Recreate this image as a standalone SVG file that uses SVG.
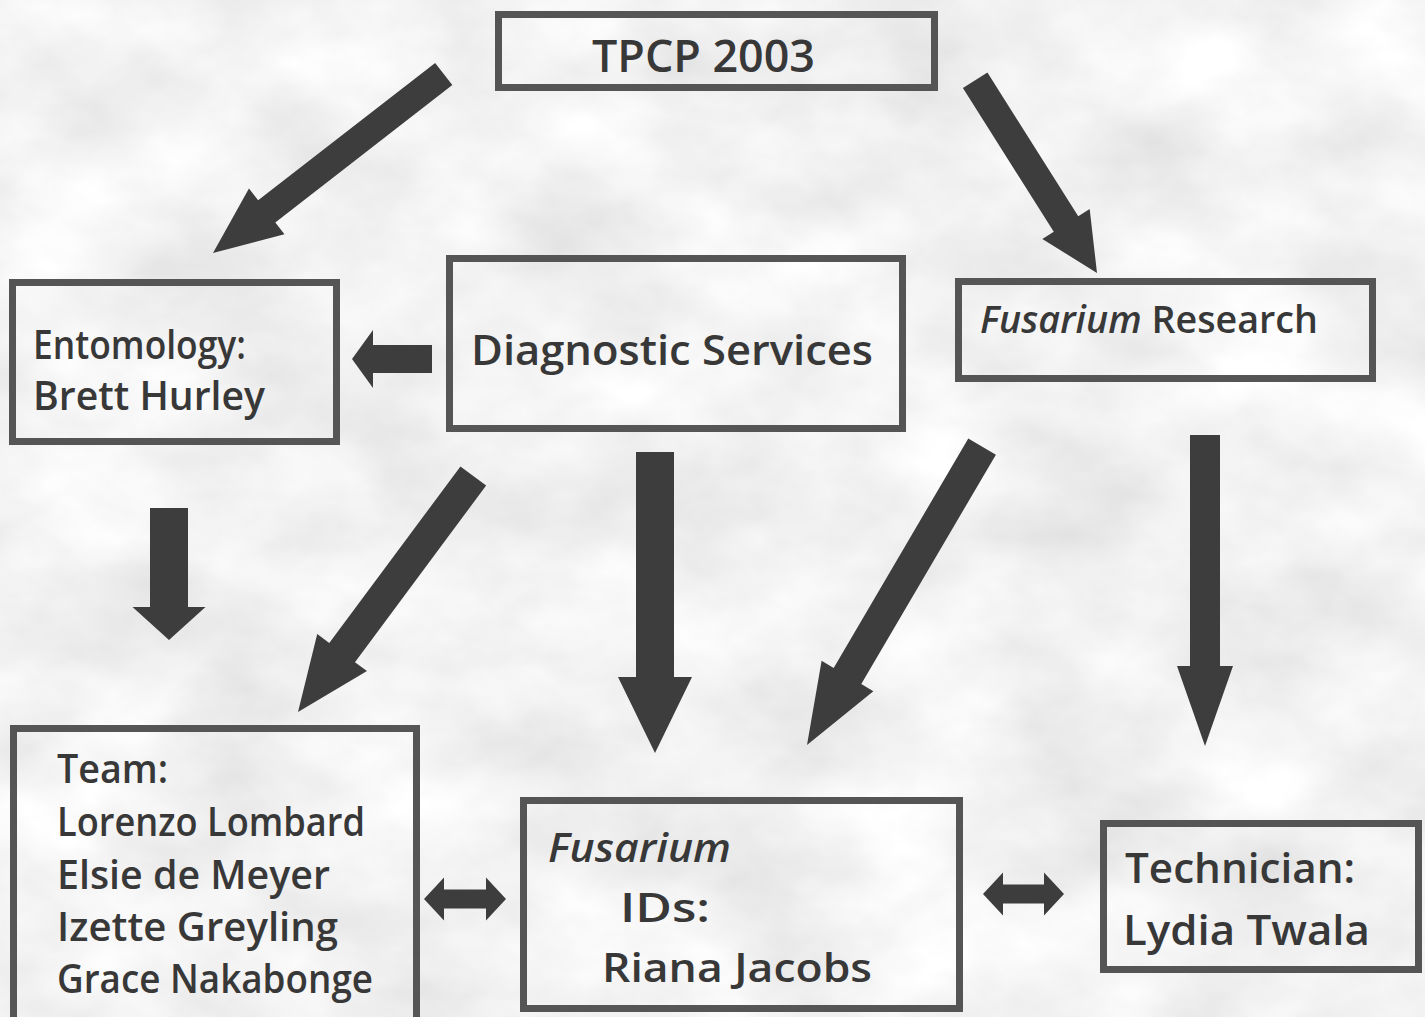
<svg xmlns="http://www.w3.org/2000/svg" width="1425" height="1017" viewBox="0 0 1425 1017">
  <defs>
    <filter id="marble" x="0" y="0" width="100%" height="100%" filterUnits="userSpaceOnUse">
      <feTurbulence type="fractalNoise" baseFrequency="0.006 0.009" numOctaves="5" seed="7" result="n"/>
      <feColorMatrix in="n" type="matrix" values="0.38 0 0 0 0.7  0.38 0 0 0 0.7  0.38 0 0 0 0.7  0 0 0 0 1"/>
    </filter>
    <style>
      .box { fill: none; stroke: #555555; stroke-width: 7; }
      .t { font-family: "Open Sans", "DejaVu Sans", sans-serif; font-weight: 600; fill: #383838; }
      .it { font-style: italic; }
      .arr { fill: #3d3d3d; }
    </style>
  </defs>

  <rect x="0" y="0" width="1425" height="1017" fill="#e2e2e2" filter="url(#marble)"/>

  <g id="connectors">
    <!-- TPCP -> Entomology -->
    <path class="arr" transform="translate(213,253) rotate(142.2)" d="M0,0 L-68,-29 L-68,-14 L-292,-14 L-292,14 L-68,14 L-68,29 Z"/>
    <!-- TPCP -> Fusarium Research -->
    <path class="arr" transform="translate(1097,273) rotate(57.7)" d="M0,0 L-58,-28 L-58,-14.5 L-228,-14.5 L-228,14.5 L-58,14.5 L-58,28 Z"/>
    <!-- Diagnostic -> Entomology -->
    <path class="arr" transform="translate(352,359) rotate(180)" d="M0,0 L-21,-29 L-21,-14 L-80,-14 L-80,14 L-21,14 L-21,29 Z"/>
    <!-- Entomology -> Team -->
    <path class="arr" transform="translate(169,640) rotate(90)" d="M0,0 L-33,-36.5 L-33,-19 L-132,-19 L-132,19 L-33,19 L-33,36.5 Z"/>
    <!-- Diagnostic -> Team -->
    <path class="arr" transform="translate(298,712) rotate(126.6)" d="M0,0 L-74,-31 L-74,-16 L-294,-16 L-294,16 L-74,16 L-74,31 Z"/>
    <!-- Diagnostic -> Fusarium IDs -->
    <path class="arr" transform="translate(655,753) rotate(90)" d="M0,0 L-76,-37 L-76,-19 L-301,-19 L-301,19 L-76,19 L-76,37 Z"/>
    <!-- Fusarium Research -> Fusarium IDs -->
    <path class="arr" transform="translate(807,745) rotate(120.4)" d="M0,0 L-80,-30 L-80,-16 L-346,-16 L-346,16 L-80,16 L-80,30 Z"/>
    <!-- Fusarium Research -> Technician -->
    <path class="arr" transform="translate(1205,746) rotate(90)" d="M0,0 L-80,-28 L-80,-15 L-311,-15 L-311,15 L-80,15 L-80,28 Z"/>
    <!-- Team <-> Fusarium IDs -->
    <path class="arr" d="M424,899 L444,877.5 L444,889.5 L486,889.5 L486,877.5 L506,899 L486,920.5 L486,908.5 L444,908.5 L444,920.5 Z"/>
    <!-- Fusarium IDs <-> Technician -->
    <path class="arr" d="M983,894 L1003,872.5 L1003,884.5 L1044,884.5 L1044,872.5 L1064,894 L1044,915.5 L1044,903.5 L1003,903.5 L1003,915.5 Z"/>
  </g>

  <g id="tpcp">
    <rect class="box" x="498.5" y="14.5" width="436" height="73"/>
    <text class="t" x="592" y="72" font-size="46" textLength="223" lengthAdjust="spacingAndGlyphs">TPCP 2003</text>
  </g>

  <g id="entomology">
    <rect class="box" x="12.5" y="282.5" width="324" height="159"/>
    <text class="t" x="33" y="359" font-size="40" textLength="213" lengthAdjust="spacingAndGlyphs">Entomology:</text>
    <text class="t" x="33" y="410" font-size="40" textLength="232" lengthAdjust="spacingAndGlyphs">Brett Hurley</text>
  </g>

  <g id="diagnostic">
    <rect class="box" x="449.5" y="258.5" width="453" height="170"/>
    <text class="t" x="471" y="365" font-size="42" textLength="402" lengthAdjust="spacingAndGlyphs">Diagnostic Services</text>
  </g>

  <g id="fusarium-research">
    <rect class="box" x="958.5" y="281.5" width="414" height="97"/>
    <text class="t" x="980" y="333" font-size="38" textLength="338" lengthAdjust="spacingAndGlyphs"><tspan class="it">Fusarium</tspan> Research</text>
  </g>

  <g id="team">
    <rect class="box" x="13.5" y="728.5" width="403" height="300"/>
    <text class="t" x="57" y="783" font-size="40" textLength="111" lengthAdjust="spacingAndGlyphs">Team:</text>
    <text class="t" x="57" y="836" font-size="40" textLength="308" lengthAdjust="spacingAndGlyphs">Lorenzo Lombard</text>
    <text class="t" x="57" y="889" font-size="40" textLength="273" lengthAdjust="spacingAndGlyphs">Elsie de Meyer</text>
    <text class="t" x="57" y="941" font-size="40" textLength="281" lengthAdjust="spacingAndGlyphs">Izette Greyling</text>
    <text class="t" x="57" y="993" font-size="40" textLength="316" lengthAdjust="spacingAndGlyphs">Grace Nakabonge</text>
  </g>

  <g id="fusarium-ids">
    <rect class="box" x="523.5" y="800.5" width="436" height="208"/>
    <text class="t it" x="548" y="862" font-size="40" textLength="183" lengthAdjust="spacingAndGlyphs">Fusarium</text>
    <text class="t" x="620" y="922" font-size="40" textLength="90" lengthAdjust="spacingAndGlyphs">IDs:</text>
    <text class="t" x="602" y="982" font-size="40" textLength="270" lengthAdjust="spacingAndGlyphs">Riana Jacobs</text>
  </g>

  <g id="technician">
    <rect class="box" x="1103.5" y="823.5" width="315" height="146"/>
    <text class="t" x="1125" y="883" font-size="42" textLength="230" lengthAdjust="spacingAndGlyphs">Technician:</text>
    <text class="t" x="1123" y="945" font-size="42" textLength="247" lengthAdjust="spacingAndGlyphs">Lydia Twala</text>
  </g>
</svg>
